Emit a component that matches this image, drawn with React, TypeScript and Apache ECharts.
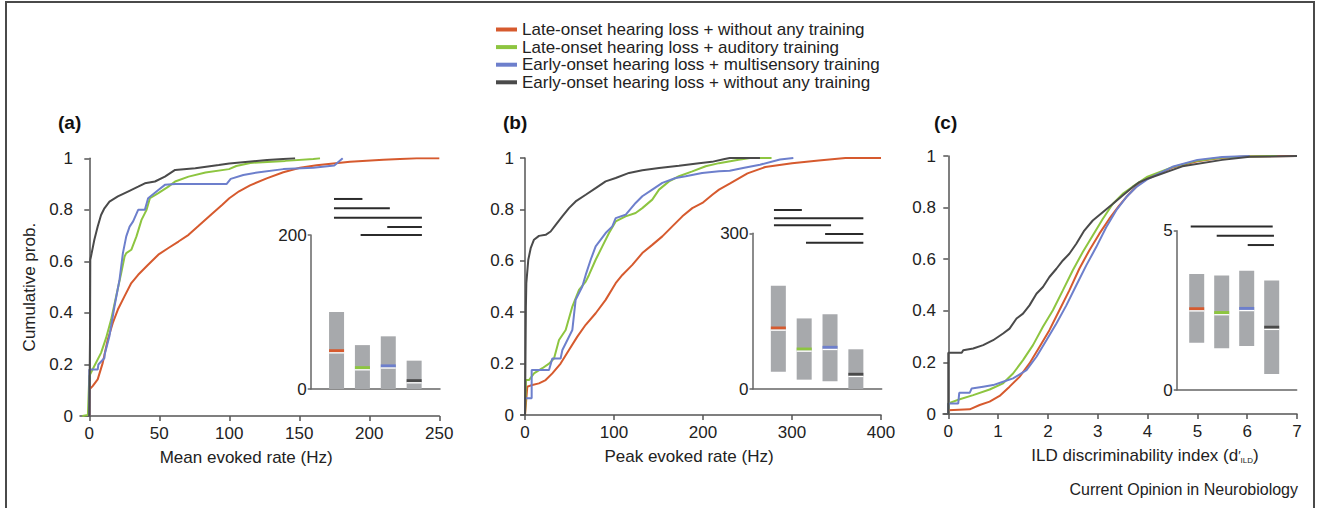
import React, { useEffect, useRef } from "react";
import * as echarts from "echarts";

// ---------- names ----------
const seriesNames = [
  "Late-onset hearing loss + without any training",
  "Late-onset hearing loss + auditory training",
  "Early-onset hearing loss + multisensory training",
  "Early-onset hearing loss + without any training",
];

// ---------- panel (a): mean evoked rate CDFs ----------
const aLate = [[0,0],[0,0.103],[2.4,0.116],[6,0.142],[9.6,0.206],[13.2,0.297],[16.8,0.361],[20.4,0.413],[25.2,0.465],[30,0.516],[34.9,0.548],[42,0.587],[49.3,0.626],[56.5,0.652],[63.7,0.677],[70.9,0.703],[78.1,0.738],[87.7,0.785],[95,0.82],[100,0.845],[107,0.872],[114.8,0.895],[126.7,0.922],[138.6,0.946],[150.5,0.963],[162.4,0.973],[186.2,0.987],[210,0.994],[233.8,1],[250,1]];
const aAud = [[-5,0],[-1,0.004],[0,0.155],[3.6,0.194],[8.4,0.245],[12,0.303],[15.6,0.374],[19.2,0.465],[22.8,0.555],[25.2,0.619],[26.4,0.632],[30,0.645],[33.7,0.697],[37.3,0.761],[40.9,0.8],[43.3,0.845],[49.3,0.865],[56.5,0.89],[61.3,0.91],[70.9,0.929],[83,0.945],[99.8,0.958],[105,0.97],[115,0.982],[140,0.99],[160,0.997],[164.8,1]];
const aMulti = [[0,0],[0,0.18],[6,0.18],[6.5,0.2],[10.8,0.225],[11,0.24],[14.4,0.31],[18,0.426],[21.6,0.529],[24,0.632],[26.4,0.697],[28.8,0.735],[31.3,0.755],[34.9,0.8],[39.7,0.8],[42,0.845],[49.3,0.877],[54,0.897],[61.3,0.9],[98,0.9],[101,0.92],[110,0.935],[120,0.945],[138.6,0.958],[160,0.963],[175,0.972],[181,1]];
const aEarly = [[0,0],[0.5,0.3],[0.7,0.606],[1.7,0.632],[3.6,0.684],[6,0.735],[8.4,0.78],[10.8,0.806],[14.4,0.832],[20.4,0.852],[27.6,0.871],[34.9,0.89],[39.7,0.903],[46.9,0.91],[54,0.929],[61.3,0.955],[75.7,0.961],[92.5,0.974],[100,0.98],[127,0.993],[147,1]];

// ---------- panel (b): peak evoked rate CDFs ----------
const bLate = [[0,0],[2.6,0.11],[8.2,0.117],[15.7,0.123],[23.2,0.136],[30.7,0.162],[40,0.2],[49.4,0.253],[58.8,0.305],[68.2,0.351],[79.4,0.396],[90.6,0.448],[101.9,0.513],[109.4,0.545],[120.6,0.584],[131.8,0.63],[143,0.662],[154.3,0.695],[165.5,0.734],[176.8,0.773],[188,0.805],[199.3,0.825],[210.5,0.857],[218,0.877],[230,0.9],[250,0.94],[270,0.965],[300,0.98],[330,0.99],[360,1],[400,1]];
const bAud = [[0,0],[0.7,0.071],[1,0.136],[4.5,0.136],[10.1,0.162],[19.5,0.182],[27,0.2],[32.6,0.22],[38.2,0.292],[45.7,0.331],[53.2,0.422],[60.7,0.487],[68.2,0.519],[71.9,0.545],[79.4,0.604],[86.9,0.656],[94.4,0.708],[101.9,0.753],[113,0.773],[124.3,0.786],[131.8,0.805],[143,0.838],[150.6,0.877],[161.8,0.909],[173,0.929],[188,0.948],[203,0.968],[218,0.98],[240,0.993],[253,1],[277,1]];
const bMulti = [[0,0],[0,0.065],[7.5,0.065],[7.5,0.175],[27,0.175],[30.7,0.22],[40,0.22],[42,0.253],[53.2,0.331],[56.9,0.448],[64.4,0.5],[68.2,0.545],[73.8,0.604],[79.4,0.656],[90.6,0.708],[98.1,0.734],[101.9,0.766],[113,0.779],[124.3,0.825],[131.8,0.851],[143,0.877],[154.3,0.903],[169.3,0.922],[180.5,0.929],[199,0.942],[218,0.948],[230,0.95],[245,0.961],[264,0.974],[286.5,0.994],[301.5,1]];
const bEarly = [[0,0],[0.5,0.2],[1,0.42],[1.5,0.513],[3.7,0.604],[6.4,0.649],[10.1,0.682],[15.7,0.697],[23.2,0.701],[28.8,0.714],[34.5,0.74],[41.9,0.773],[49.4,0.805],[56.9,0.831],[68.2,0.857],[79.4,0.883],[90.6,0.909],[101.9,0.922],[116.9,0.942],[131.8,0.952],[150.6,0.961],[173,0.97],[195.5,0.98],[210,0.985],[223,0.995],[230,1],[264,1]];

// ---------- panel (c): ILD discriminability CDFs ----------
const cLate = [[0,0],[0,0.015],[0.43,0.018],[0.63,0.035],[0.83,0.048],[1.03,0.07],[1.23,0.106],[1.43,0.144],[1.63,0.196],[1.83,0.26],[2.03,0.325],[2.23,0.402],[2.43,0.479],[2.63,0.563],[2.83,0.634],[3.03,0.698],[3.23,0.756],[3.43,0.808],[3.63,0.853],[3.83,0.892],[4,0.915],[4.5,0.955],[5,0.98],[5.5,0.993],[6,0.998],[7,1]];
const cAud = [[0,0],[0,0.041],[0.23,0.057],[0.5,0.073],[0.83,0.095],[1.1,0.119],[1.3,0.157],[1.5,0.209],[1.7,0.267],[1.9,0.338],[2.1,0.402],[2.3,0.479],[2.5,0.557],[2.7,0.628],[2.9,0.692],[3.1,0.756],[3.3,0.814],[3.5,0.853],[3.7,0.881],[4,0.92],[4.5,0.957],[5,0.982],[5.5,0.994],[6,0.998],[6.6,1]];
const cMulti = [[0,0],[0,0.041],[0.2,0.041],[0.22,0.082],[0.43,0.082],[0.47,0.099],[0.7,0.106],[0.9,0.112],[1.1,0.125],[1.3,0.138],[1.57,0.17],[1.77,0.222],[1.97,0.286],[2.17,0.351],[2.37,0.421],[2.57,0.499],[2.77,0.576],[2.97,0.647],[3.17,0.724],[3.37,0.789],[3.57,0.84],[3.77,0.879],[4,0.91],[4.5,0.958],[5,0.985],[5.5,0.996],[6.05,1]];
const cEarly = [[0,0],[0,0.237],[0.27,0.237],[0.3,0.247],[0.5,0.254],[0.7,0.267],[0.9,0.286],[1.1,0.312],[1.23,0.331],[1.37,0.37],[1.5,0.389],[1.63,0.421],[1.77,0.466],[1.9,0.492],[2.03,0.531],[2.17,0.563],[2.3,0.595],[2.43,0.621],[2.57,0.66],[2.73,0.711],[2.9,0.75],[3.1,0.782],[3.3,0.814],[3.5,0.847],[3.7,0.879],[3.83,0.898],[4,0.912],[4.7,0.96],[5.5,0.985],[6.05,0.997],[7,1]];

// ---------- tick labels ----------
const xTicksA = [0, 50, 100, 150, 200, 250];
const xTicksB = [0, 100, 200, 300, 400];
const xTicksC = [0, 1, 2, 3, 4, 5, 6, 7];

// ---------- insets: box (low, high, median) per group ----------
const insetPos = [1, 2, 3, 4];
const insetALow = [0, 0, 0, 0];
const insetAHigh = [100, 57, 68.4, 36.8];
const insetAMed = [49.7, 27.7, 30, 10.8];
const insetBLow = [33.4, 18, 14.8, 0];
const insetBHigh = [199, 136, 144, 76.5];
const insetBMed = [117.5, 77, 80.3, 28.3];
const insetCLow = [1.48, 1.31, 1.38, 0.5];
const insetCHigh = [3.64, 3.59, 3.74, 3.44];
const insetCMed = [2.55, 2.43, 2.56, 1.97];

// significance bars: [from, to, level]
const sigA = [[0.9, 2.0, 246.8], [0.9, 3.06, 234.7], [0.9, 4.3, 222.5], [2.96, 4.3, 210.4], [1.93, 4.3, 200]];
const sigB = [[0.83, 1.91, 344.9], [0.83, 4.29, 328.9], [0.83, 3.04, 315.4], [2.81, 4.29, 298.7], [2.07, 4.29, 281.9]];
const sigC = [[0.76, 4.04, 5.13], [1.8, 4.09, 4.84], [3.04, 4.09, 4.55]];

const COLORS = ["#d65a2e", "#8dc540", "#6d7fcc", "#4a4a4a"];
const GRAY = "#a7a9ac";
const AXIS = "#555555";
const TXT = "#222222";
const FONT = "'Liberation Sans', Arial, Helvetica, sans-serif";

export default function App() {
  const ref = useRef<HTMLDivElement>(null);

  useEffect(() => {
    if (!ref.current) return;
    const chart = echarts.init(ref.current, undefined, { renderer: "svg" });

    const axisLine = { show: true, lineStyle: { color: AXIS, width: 1.5 } };

    const mainX = (gi: number, min: number, max: number, ticks: number[], name: string, pad: number[], rich?: any) => ({
      type: "value",
      gridIndex: gi,
      min,
      max,
      name,
      nameLocation: "middle",
      nameGap: 33,
      nameTextStyle: { fontSize: 17, color: TXT, fontFamily: FONT, padding: pad, rich },
      axisLine,
      axisTick: { show: true, customValues: ticks, length: 5, lineStyle: { color: AXIS, width: 1.5 } },
      axisLabel: { customValues: ticks, fontSize: 17, color: TXT, fontFamily: FONT, margin: 9 },
      splitLine: { show: false },
    });
    const mainY = (gi: number, name?: string) => ({
      type: "value",
      gridIndex: gi,
      min: 0,
      max: 1,
      interval: 0.2,
      name: name || "",
      nameLocation: "middle",
      nameGap: 42,
      nameTextStyle: { fontSize: 17, color: TXT, fontFamily: FONT },
      axisLine,
      axisTick: { show: true, length: 5, lineStyle: { color: AXIS, width: 1.5 } },
      axisLabel: { fontSize: 17, color: TXT, fontFamily: FONT, margin: 7 },
      splitLine: { show: false },
    });
    const insetX = (gi: number, min: number) => ({
      type: "value",
      gridIndex: gi,
      min,
      max: 5,
      axisLine: { show: true, lineStyle: { color: "#666", width: 1.5 } },
      axisTick: { show: false },
      axisLabel: { show: false },
      splitLine: { show: false },
    });
    const insetY = (gi: number, max: number) => ({
      type: "value",
      gridIndex: gi,
      min: 0,
      max,
      interval: max,
      axisLine: { show: true, lineStyle: { color: "#666", width: 1.5 } },
      axisTick: { show: true, length: 3, lineStyle: { color: "#666", width: 1.5 } },
      axisLabel: { fontSize: 17, color: TXT, fontFamily: FONT, margin: 4 },
      splitLine: { show: false },
    });

    const curves = [
      [aLate, aAud, aMulti, aEarly],
      [bLate, bAud, bMulti, bEarly],
      [cLate, cAud, cMulti, cEarly],
    ];
    const lineSeries: any[] = [];
    curves.forEach((set, pi) => {
      set.forEach((d, ci) => {
        lineSeries.push({
          type: "line",
          name: seriesNames[ci],
          xAxisIndex: pi,
          yAxisIndex: pi,
          data: d,
          showSymbol: false,
          symbol: "none",
          lineStyle: { color: COLORS[ci], width: 2 },
          itemStyle: { color: COLORS[ci] },
          z: 2,
        });
      });
    });

    const boxRender = (params: any, api: any) => {
      const x = api.value(0);
      const top = api.coord([x, api.value(2)]);
      const bot = api.coord([x, api.value(1)]);
      const med = api.coord([x, api.value(3)]);
      const ci = api.value(4);
      const hw = 7.5;
      return {
        type: "group",
        children: [
          { type: "rect", shape: { x: top[0] - hw, y: top[1], width: 2 * hw, height: bot[1] - top[1] }, style: { fill: GRAY } },
          { type: "rect", shape: { x: top[0] - hw, y: med[1] - 1.5, width: 2 * hw, height: 3 }, style: { fill: COLORS[ci] } },
          { type: "rect", shape: { x: top[0] - hw, y: med[1] + 1.5, width: 2 * hw, height: 1.3 }, style: { fill: "#ffffff" } },
        ],
      };
    };
    const sigRender = (params: any, api: any) => {
      const p1 = api.coord([api.value(0), api.value(2)]);
      const p2 = api.coord([api.value(1), api.value(2)]);
      return {
        type: "line",
        shape: { x1: p1[0], y1: p1[1], x2: p2[0], y2: p2[1] },
        style: { stroke: "#2b2b2b", lineWidth: 2 },
      };
    };
    const boxData = (lo: number[], hi: number[], md: number[]) =>
      insetPos.map((p, i) => [p, lo[i], hi[i], md[i], i]);

    const insetSeries: any[] = [
      [boxData(insetALow, insetAHigh, insetAMed), sigA],
      [boxData(insetBLow, insetBHigh, insetBMed), sigB],
      [boxData(insetCLow, insetCHigh, insetCMed), sigC],
    ].flatMap(([bx, sg], k) => [
      {
        type: "custom",
        xAxisIndex: 3 + k,
        yAxisIndex: 3 + k,
        renderItem: boxRender,
        data: bx,
        encode: { x: 0, y: [1, 2, 3] },
        clip: false,
        z: 3,
        silent: true,
      },
      {
        type: "custom",
        xAxisIndex: 3 + k,
        yAxisIndex: 3 + k,
        renderItem: sigRender,
        data: sg,
        encode: { x: [0, 1], y: 2 },
        clip: false,
        z: 3,
        silent: true,
      },
    ]);

    const option: any = {
      animation: false,
      backgroundColor: "#ffffff",
      textStyle: { fontFamily: FONT },
      title: [
        { text: "(a)", left: 58, top: 113, padding: 0, textStyle: { fontSize: 19, fontWeight: "bold", color: "#111", fontFamily: FONT } },
        { text: "(b)", left: 503, top: 113, padding: 0, textStyle: { fontSize: 19, fontWeight: "bold", color: "#111", fontFamily: FONT } },
        { text: "(c)", left: 934, top: 113, padding: 0, textStyle: { fontSize: 19, fontWeight: "bold", color: "#111", fontFamily: FONT } },
      ],
      legend: {
        data: seriesNames,
        orient: "vertical",
        left: 496,
        top: 21,
        padding: 0,
        itemGap: 0.6,
        itemWidth: 21,
        itemHeight: 4,
        icon: "rect",
        selectedMode: false,
        textStyle: { fontSize: 17, color: TXT, fontFamily: FONT, lineHeight: 17 },
      },
      grid: [
        { left: 80, top: 158.3, width: 359.3, height: 257.7 },
        { left: 521, top: 158, width: 360, height: 257 },
        { left: 943, top: 156, width: 354, height: 258 },
        { left: 310.7, top: 235, width: 129.3, height: 154 },
        { left: 752.5, top: 233.3, width: 129.2, height: 155.7 },
        { left: 1176.7, top: 230.7, width: 120, height: 159.3 },
      ],
      xAxis: [
        mainX(0, -6.64, 250, xTicksA, "Mean evoked rate (Hz)", [0, 27, 0, 0]),
        mainX(1, -4.49, 400, xTicksB, "Peak evoked rate (Hz)", [0, 24, 0, 0]),
        mainX(2, -0.106, 7, xTicksC, "ILD discriminability index (d{p|′}{s|ILD})", [0, 0, 0, 50], {
          p: { fontSize: 13, color: TXT, fontFamily: FONT },
          s: { fontSize: 8, color: TXT, fontFamily: FONT, padding: [9, 0, 0, 0] },
        }),
        insetX(3, 0),
        insetX(4, 0),
        insetX(5, 0.2),
      ],
      yAxis: [
        mainY(0, "Cumulative prob."),
        mainY(1),
        mainY(2),
        insetY(3, 200),
        insetY(4, 300),
        insetY(5, 5),
      ],
      graphic: [
        {
          type: "polyline",
          shape: { points: [[6, 508], [6, 2], [1314, 2], [1314, 508]] },
          style: { stroke: "#4a4a4a", lineWidth: 2, fill: "none" },
          silent: true,
        },
        {
          type: "text",
          x: 1298,
          y: 489,
          style: { text: "Current Opinion in Neurobiology", fontSize: 16, fill: TXT, fontFamily: FONT, align: "right", verticalAlign: "middle" },
          silent: true,
        },
      ],
      series: [...lineSeries, ...insetSeries],
    };

    chart.setOption(option);
    return () => chart.dispose();
  }, []);

  return (
    <div
      ref={ref}
      style={{ position: "absolute", left: 0, top: 0, width: 1325, height: 508, background: "#fff" }}
    />
  );
}
